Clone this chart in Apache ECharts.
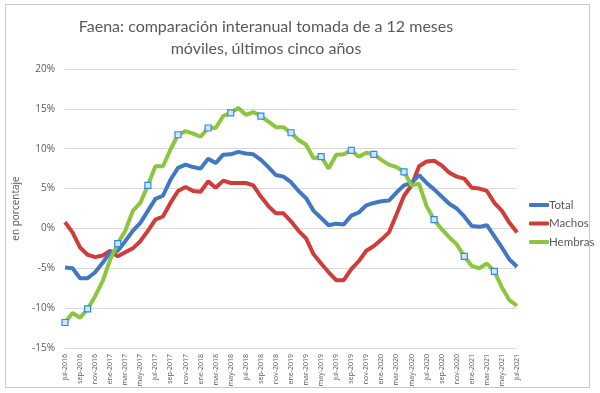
<!DOCTYPE html>
<html><head><meta charset="utf-8">
<script src="https://cdn.jsdelivr.net/npm/echarts@6/dist/echarts.min.js"></script>
<style>html,body{margin:0;padding:0;background:#fff}#c{width:600px;height:393px}</style>
</head><body><div id="c"></div>
<script>
var months = [];
var mNames = ['ene','feb','mar','abr','may','jun','jul','ago','sep','oct','nov','dic'];
(function(){ for (var k = 0; k < 61; k++) { var m = (6 + k) % 12; var y = 2016 + Math.floor((6 + k) / 12); months.push(mNames[m] + '-' + y); } })();

var total = [-4.9,-5.0,-6.25,-6.25,-5.5,-4.3,-3.0,-2.8,-1.6,-0.3,0.7,2.2,3.7,4.1,6.1,7.6,8.0,7.7,7.5,8.75,8.2,9.25,9.3,9.6,9.4,9.3,8.6,7.7,6.7,6.5,5.8,
  4.7,3.8,2.2,1.3,0.4,0.6,0.5,1.6,2.0,2.9,3.2,3.4,3.5,4.5,5.4,5.7,6.7,5.7,4.9,4.0,3.1,2.5,1.5,0.3,0.2,0.4,-1.0,-2.4,-3.9,-4.8];
var machos = [0.8,-0.5,-2.4,-3.3,-3.6,-3.4,-2.8,-3.5,-3.0,-2.5,-1.6,-0.3,1.1,1.5,3.2,4.7,5.2,4.7,4.6,5.9,5.1,6.0,5.7,5.7,5.7,5.4,4.0,2.8,1.9,1.9,0.9,
  -0.3,-1.25,-3.25,-4.4,-5.5,-6.5,-6.5,-5.1,-4.1,-2.8,-2.2,-1.4,-0.5,1.75,4.1,5.4,7.8,8.4,8.5,7.9,7.0,6.5,6.25,5.1,5.0,4.7,3.2,2.2,0.7,-0.5];
var hembras = [-11.8,-10.6,-11.2,-10.1,-8.5,-6.6,-3.9,-1.9,-0.3,2.2,3.2,5.4,7.8,7.8,9.9,11.75,12.2,11.9,11.5,12.6,12.6,14.1,14.5,15.1,14.25,14.6,14.1,13.4,12.7,12.7,12.0,
  11.1,10.5,8.8,9.0,7.5,9.25,9.3,9.8,9.0,9.5,9.3,8.6,8.0,7.7,7.1,5.4,5.6,2.8,1.1,-0.1,-1.1,-2.0,-3.5,-4.7,-5.0,-4.4,-5.4,-7.4,-9.0,-9.7];
var markedIdx = [0,3,7,11,15,19,22,26,30,34,38,41,45,49,53,57];
var yTicks = [-15,-10,-5,0,5,10,15,20];

var txt = '#595959';
var hembrasData = hembras.map(function(v, i){
  if (markedIdx.indexOf(i) >= 0) return {value: v, symbol: 'rect', symbolSize: 6,
    itemStyle: {color: '#cfe6fb', borderColor: '#2f8be6', borderWidth: 1.2}};
  return {value: v, symbol: 'none'};
});

var chart = echarts.init(document.getElementById('c'), null, {renderer: 'canvas'});
chart.setOption({
  animation: false,
  backgroundColor: '#fff',
  title: {
    text: 'Faena: comparación interanual tomada de a 12 meses\nmóviles, últimos cinco años',
    left: 261, top: 11, textAlign: 'center',
    textStyle: {fontFamily: 'Lato', fontSize: 16, fontWeight: 'normal', color: txt, lineHeight: 22}
  },
  graphic: [{type: 'rect', shape: {x: 5.5, y: 4.5, width: 584, height: 383},
    style: {fill: 'none', stroke: '#c8c8c8', lineWidth: 1}, silent: true}],
  legend: {
    orient: 'vertical', left: 524, top: 194, itemWidth: 20, itemHeight: 4, itemGap: 6.5,
    icon: 'roundRect',
    textStyle: {fontFamily: 'Lato', fontSize: 11.5, color: txt, padding: [0,0,0,-5]},
    data: ['Total','Machos','Hembras']
  },
  grid: {left: 65, right: 83, top: 69, bottom: 45, containLabel: false},
  xAxis: {
    type: 'category', data: months, boundaryGap: false,
    axisLine: {show: true, lineStyle: {color: '#d9d9d9'}},
    axisTick: {show: false},
    axisLabel: {interval: 1, rotate: 90, fontSize: 7, color: txt, fontFamily: 'Open Sans', margin: 6},
    splitLine: {show: false}
  },
  yAxis: {
    type: 'value', min: yTicks[0], max: yTicks[yTicks.length-1], interval: 5,
    name: 'en porcentaje', nameLocation: 'middle', nameGap: 40, nameRotate: 90,
    nameTextStyle: {fontFamily: 'Open Sans', fontSize: 10, color: txt},
    axisLine: {show: false}, axisTick: {show: false},
    axisLabel: {formatter: '{value}%', fontSize: 10, color: txt, fontFamily: 'Open Sans', margin: 10},
    splitLine: {lineStyle: {color: '#d9d9d9', width: 1}}
  },
  series: [
    {name: 'Total', type: 'line', data: total, showSymbol: false, symbol: 'none', color: '#4178c2',
      lineStyle: {width: 4, color: '#4178c2'}, z: 3},
    {name: 'Machos', type: 'line', data: machos, showSymbol: false, symbol: 'none', color: '#d03c3a',
      lineStyle: {width: 4, color: '#d03c3a'}, z: 2},
    {name: 'Hembras', type: 'line', data: hembrasData, showAllSymbol: true, color: '#8cc53f',
      lineStyle: {width: 4, color: '#8cc53f'}, z: 4}
  ]
});
</script></body></html>
